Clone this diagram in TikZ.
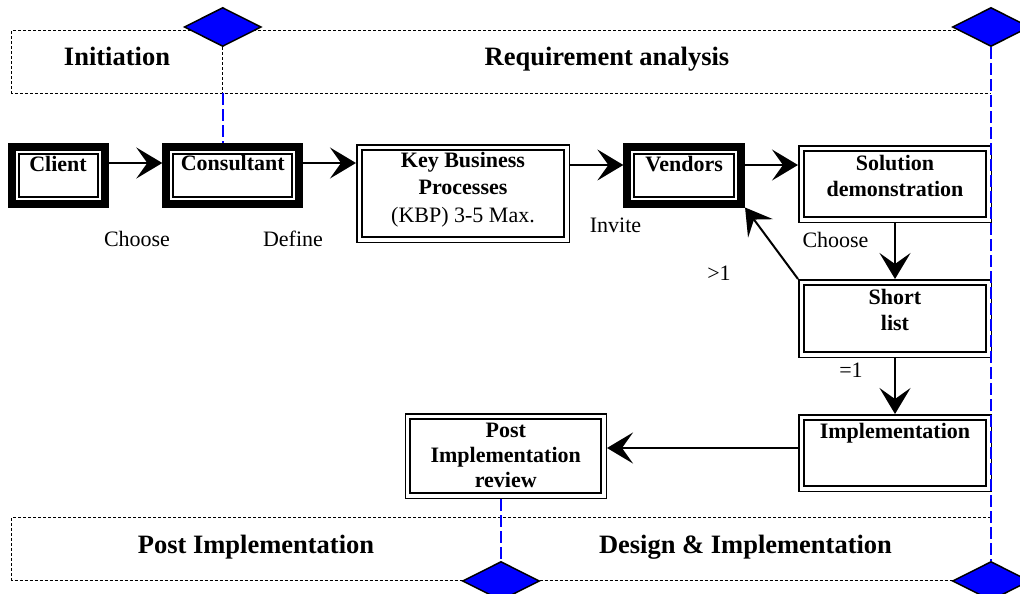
\documentclass[tikz,border=0pt]{standalone}
\usepackage{fontspec}
\setmainfont{Liberation Serif}
\usetikzlibrary{arrows.meta,shapes.geometric,backgrounds}
\begin{document}
\begin{tikzpicture}[x=1pt,y=-1pt,
  thickbox/.style={draw, line width=8pt, inner sep=0pt,
    path picture={\draw[line width=2pt]
      ([shift={(7pt,-7pt)}]path picture bounding box.north west) rectangle
      ([shift={(-7pt,7pt)}]path picture bounding box.south east);}},
  dblbox/.style={draw, line width=1.5pt, inner sep=0pt,
    path picture={\draw[line width=2pt]
      ([shift={(5pt,-5pt)}]path picture bounding box.north west) rectangle
      ([shift={(-5pt,5pt)}]path picture bounding box.south east);}},
  lab/.style={inner sep=0pt, align=center, font=\fontsize{22}{26}\selectfont\bfseries},
  phaselab/.style={inner sep=0pt, anchor=base, font=\fontsize{26.5}{30}\selectfont\bfseries},
  txt/.style={inner sep=0pt, anchor=base, font=\fontsize{22}{26}\selectfont},
  gate/.style={diamond, draw=black, line width=1.5pt, fill=blue, inner sep=0pt,
    minimum width=77pt, minimum height=39pt},
  conn/.style={line width=2pt, -{Stealth[length=26pt,width=31pt,inset=11pt]}},
  phase/.style={line width=1pt, dash pattern=on 3pt off 2pt},
  blueline/.style={draw=blue, line width=2pt, dash pattern=on 12pt off 4pt}
]
\useasboundingbox (0,0) rectangle (1020,594);

% boxes
\node[thickbox, minimum width=93pt, minimum height=57pt,
  label={[lab, anchor=north, yshift=-14pt]north:Client}] (client) at (58,175) {};
\node[thickbox, minimum width=133pt, minimum height=57pt,
  label={[lab, anchor=north, yshift=-13pt]north:Consultant}] (consult) at (232.8,175) {};
\node[dblbox, minimum width=212.5pt, minimum height=97.5pt,
  label={[lab, anchor=north, yshift=-8pt, font=\fontsize{22}{27.5}\selectfont\bfseries]north:Key Business\\Processes\\{\mdseries (KBP) 3-5 Max.}}] (kbp) at (463,193.5) {};
\node[thickbox, minimum width=113.7pt, minimum height=57pt,
  label={[lab, anchor=north, yshift=-14pt]north:Vendors}] (vendors) at (684.2,175) {};
\node[dblbox, minimum width=192.5pt, minimum height=76.5pt,
  label={[lab, anchor=north, yshift=-10pt]north:Solution\\demonstration}] (solution) at (895,184) {};
\node[dblbox, minimum width=192.5pt, minimum height=77.5pt,
  label={[lab, anchor=north, yshift=-10pt]north:Short\\list}] (short) at (895,318.5) {};
\node[dblbox, minimum width=192.5pt, minimum height=76.5pt,
  label={[lab, anchor=north, yshift=-9pt]north:Implementation}] (impl) at (895,453) {};
\node[dblbox, minimum width=201pt, minimum height=84.5pt,
  label={[lab, anchor=north, yshift=-10pt, font=\fontsize{22}{25}\selectfont\bfseries]north:Post\\Implementation\\review}] (post) at (505.75,456) {};

% gates
\node[gate] (dTL) at (222.7,27) {};
\node[gate] (dTR) at (991,27) {};
\node[gate] (dBL) at (501,581) {};
\node[gate] (dBR) at (991,581) {};

% phase frames
\begin{scope}[on background layer]
  \coordinate (tbt) at (11.7,30.7);
  \coordinate (tbb) at (11.7,93.3);
  \coordinate (bbt) at (11.7,517.7);
  \coordinate (bbb) at (11.7,580.5);
  \draw[phase] (tbt -| dTR) -- (tbt) -- (tbb) -- (tbb -| dTR);
  \draw[phase] (dTL.south) -- (dTL |- tbb);
  \draw[phase] (bbt -| dBR) -- (bbt) -- (bbb) -- (bbb -| dBR);
\end{scope}

% phase labels
\node[phaselab] (pInit) at (117,66) {Initiation};
\node[phaselab] (pReq) at (607,66) {Requirement analysis};
\node[phaselab] (pPost) at (256,553) {Post Implementation};
\node[phaselab] (pDes) at (745.5,553) {Design \& Implementation};

% milestone lines
\draw[blueline] (dTL |- tbb) -- (dTL |- consult.north);
\draw[blueline] (dTR.south) -- (dBR.north);
\draw[blueline] (dBL |- post.south) -- (dBL.north);

% connectors
\draw[conn] ([yshift=12pt]client.east) -- ([yshift=12pt]client.east -| consult.west);
\draw[conn] ([yshift=12pt]consult.east) -- ([yshift=12pt]consult.east -| kbp.west);
\draw[conn] ([yshift=10pt]vendors.west -| kbp.east) -- ([yshift=10pt]vendors.west);
\draw[conn] ([yshift=10pt]vendors.east) -- ([yshift=10pt]vendors.east -| solution.west);
\draw[conn] (solution.south) -- (short.north);
\draw[conn] (short.north west) -- (vendors.south east);
\draw[conn] (short.south) -- (impl.north);
\draw[conn] ([yshift=5pt]impl.west) -- ([yshift=5pt]impl.west -| post.east);

% connector labels
\node[txt] (lChoose1) at (137,246) {Choose};
\node[txt] (lDefine) at (293,246) {Define};
\node[txt] (lInvite) at (615.5,232) {Invite};
\node[txt] (lChoose2) at (835.5,247) {Choose};
\node[txt] (lGt) at (719,280.5) {>1};
\node[txt] (lEq) at (851,377) {=1};
\end{tikzpicture}
\end{document}
